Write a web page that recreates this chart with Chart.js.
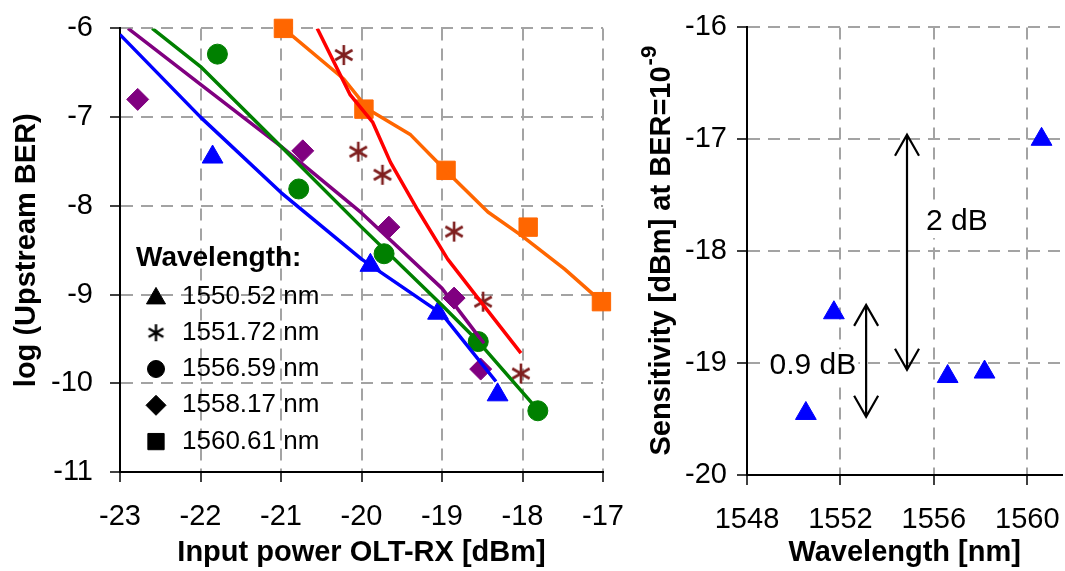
<!DOCTYPE html>
<html>
<head>
<meta charset="utf-8">
<title>Upstream BER and sensitivity</title>
<script src="https://cdn.jsdelivr.net/npm/chart.js@4.4.1/dist/chart.umd.min.js"></script>
<style>
  html, body { margin: 0; padding: 0; background: #fff; }
  #wrap { position: relative; width: 1065px; height: 571px; overflow: hidden; }
  /* canvases are a bit larger than their slot: the tick padding eats some room at the edges */
  #ber { position: absolute; left: 0; top: -6px; }
  #sens { position: absolute; left: 625px; top: 0; }
</style>
</head>
<body>
<div id="wrap">
  <canvas id="ber" width="642" height="577"></canvas>
  <canvas id="sens" width="454" height="571"></canvas>
</div>
<script>
var FONT = "'Liberation Sans', Arial, Helvetica, sans-serif";
Chart.defaults.font.family = FONT;
Chart.defaults.color = '#000';

// legend entries
var wavelengths = ['1550.52 nm', '1551.72 nm', '1556.59 nm', '1558.17 nm', '1560.61 nm'];

// measured BER points: input power [dBm] / log(BER)
var p1550x = [-21.85, -19.89, -19.05, -18.31];
var p1550y = [-7.45, -8.67, -9.21, -10.13];
var p1551x = [-20.22, -20.04, -19.74, -18.85, -18.49, -18.02];
var p1551y = [-6.30, -7.39, -7.65, -8.29, -9.08, -9.89];
var p1556x = [-21.79, -20.78, -19.72, -18.55, -17.81];
var p1556y = [-6.29, -7.81, -8.54, -9.53, -10.31];
var p1558x = [-22.78, -20.73, -19.66, -18.85, -18.52];
var p1558y = [-6.80, -7.38, -8.24, -9.04, -9.84];
var p1560x = [-20.97, -19.97, -18.95, -17.93, -17.02];
var p1560y = [-6.0, -6.91, -7.60, -8.24, -9.08];

// fitted curves
var fit1550x = [-23, -22, -21, -20, -19, -18.33];
var fit1550y = [-6.07, -7.0, -7.85, -8.6, -9.22, -9.98];
var fit1551x = [-20.55, -20.14, -19.86, -19.64, -19.3, -18.93, -18.52, -18.02];
var fit1551y = [-6.0, -6.75, -7.06, -7.51, -8.05, -8.6, -9.08, -9.66];
var fit1556x = [-22.6, -22, -21, -20, -19, -18.55, -17.81];
var fit1556y = [-6.0, -6.43, -7.33, -8.24, -9.12, -9.53, -10.3];
var fit1558x = [-22.9, -22, -21, -20, -19, -18.48];
var fit1558y = [-6.0, -6.63, -7.33, -8.08, -8.93, -9.55];
var fit1560x = [-20.97, -20.22, -19.92, -19.39, -18.98, -18.43, -18.02, -17.48, -17.02];
var fit1560y = [-6.0, -6.57, -6.91, -7.2, -7.58, -8.07, -8.33, -8.71, -9.08];

// sensitivity at BER=1e-9 per wavelength
var sensWl = [1550.52, 1551.72, 1556.59, 1558.17, 1560.61];
var sensDbm = [-19.45, -18.55, -19.12, -19.08, -17.0];

function toXY(xs, ys) {
    return xs.map(function (x, i) { return { x: x, y: ys[i] }; });
}

// six-armed asterisk marker
function asterisk(color, size, lw) {
    var c = document.createElement('canvas');
    c.width = size; c.height = size;
    var g = c.getContext('2d');
    var m = size / 2, r = size / 2 - 1;
    g.strokeStyle = color;
    g.lineWidth = lw;
    g.beginPath();
    [90, 30, 150].forEach(function (a) {
        var rad = a * Math.PI / 180;
        g.moveTo(m - Math.cos(rad) * r, m - Math.sin(rad) * r);
        g.lineTo(m + Math.cos(rad) * r, m + Math.sin(rad) * r);
    });
    g.stroke();
    return c;
}

var COLORS = ['#0000ff', '#7f1f1f', '#008000', '#800080', '#ff6600'];
var FITCOLORS = ['#0000ff', '#ff0000', '#008000', '#800080', '#ff6600'];

function pts(xs, ys, i, style, r) {
    return {
        data: toXY(xs, ys), showLine: false, order: 1, clip: false,
        pointStyle: style, pointRadius: r, pointHoverRadius: r,
        pointBackgroundColor: COLORS[i], pointBorderColor: COLORS[i], pointBorderWidth: 1
    };
}
function fit(xs, ys, i) {
    return {
        data: toXY(xs, ys), showLine: true, order: 0, pointRadius: 0,
        borderColor: FITCOLORS[i], borderWidth: 3.5, tension: 0, borderJoinStyle: 'round'
    };
}

var gridOpts = { color: '#a3a3a3', lineWidth: 2, tickColor: '#000', tickLength: 10, tickWidth: 1.5 };
var borderOpts = { color: '#000', width: 2, dash: [12, 8] };
function num(v) { return String(v); }

// legend inside the BER plot
var legendPlugin = {
    id: 'wlLegend',
    afterDraw: function (chart) {
        var ctx = chart.ctx;
        var top = chart.chartArea.top;
        var styles = ['triangle', null, 'circle', 'rectRot', 'rect'];
        var radii = [11, 0, 8.5, 10, 11.5];
        var star = asterisk('#000', 19, 2.4);
        ctx.save();
        ctx.fillStyle = '#000';
        ctx.strokeStyle = '#000';
        ctx.textBaseline = 'middle';
        ctx.font = 'bold 28px ' + FONT;
        ctx.fillText('Wavelength:', 136, top + 230);
        ctx.font = '26px ' + FONT;
        for (var i = 0; i < wavelengths.length; i++) {
            var y = top + 268 + i * 36.3;
            if (styles[i]) {
                Chart.helpers.drawPoint(ctx, { pointStyle: styles[i], radius: radii[i], rotation: 0, borderWidth: 1 }, 156, y + (i === 0 ? 2 : 0));
            } else {
                ctx.drawImage(star, 156 - 9.5, y - 9.5);
            }
            ctx.fillText(wavelengths[i], 182, y);
        }
        ctx.restore();
    }
};

var ber = new Chart(document.getElementById('ber'), {
    type: 'scatter',
    data: {
        datasets: [
            pts(p1550x, p1550y, 0, 'triangle', 12),
            pts(p1551x, p1551y, 1, asterisk(COLORS[1], 22, 2.6), 11),
            pts(p1556x, p1556y, 2, 'circle', 10),
            pts(p1558x, p1558y, 3, 'rectRot', 11),
            pts(p1560x, p1560y, 4, 'rect', 13),
            fit(fit1550x, fit1550y, 0),
            fit(fit1551x, fit1551y, 1),
            fit(fit1556x, fit1556y, 2),
            fit(fit1558x, fit1558y, 3),
            fit(fit1560x, fit1560y, 4)
        ]
    },
    options: {
        responsive: false,
        animation: false,
        layout: { padding: { top: 27, right: 23, left: 0, bottom: 0 } },
        plugins: { legend: { display: false }, tooltip: { enabled: false } },
        scales: {
            x: {
                type: 'linear', min: -23, max: -17,
                ticks: { stepSize: 1, padding: 18, font: { size: 29 }, callback: num },
                grid: gridOpts, border: borderOpts,
                title: { display: true, text: 'Input power OLT-RX [dBm]', font: { size: 29, weight: 'bold' }, padding: { top: 0, bottom: 1 } },
                afterFit: function (s) { s.height = 99; }
            },
            y: {
                type: 'linear', min: -11, max: -6,
                ticks: { stepSize: 1, padding: 17, font: { size: 29 }, callback: num },
                grid: gridOpts, border: borderOpts,
                title: { display: true, text: 'log (Upstream BER)', font: { size: 29, weight: 'bold' }, padding: { top: 10, bottom: 0 } },
                afterFit: function (s) { s.width = 120; }
            }
        }
    },
    plugins: [legendPlugin]
});

// arrows and dB labels, plus the y title with its exponent
var sensPlugin = {
    id: 'sensExtras',
    afterDatasetsDraw: function (chart) {
        var ctx = chart.ctx, xs = chart.scales.x, ys = chart.scales.y;
        var arrows = [
            { x: 1554.85, top: -16.96, bottom: -19.06, text: '2 dB', tx: 1555.66, ty: -17.74, align: 'left' },
            { x: 1553.1, top: -18.48, bottom: -19.48, text: '0.9 dB', tx: 1552.68, ty: -19.02, align: 'right' }
        ];
        ctx.save();
        ctx.font = '30px ' + FONT;
        ctx.textBaseline = 'middle';
        arrows.forEach(function (a) {
            var px = xs.getPixelForValue(a.x), y1 = ys.getPixelForValue(a.top), y2 = ys.getPixelForValue(a.bottom);
            ctx.strokeStyle = '#000';
            ctx.lineWidth = 2.2;
            ctx.beginPath();
            ctx.moveTo(px, y1); ctx.lineTo(px, y2);
            ctx.moveTo(px - 12, y1 + 21); ctx.lineTo(px, y1); ctx.lineTo(px + 12, y1 + 21);
            ctx.moveTo(px - 12, y2 - 21); ctx.lineTo(px, y2); ctx.lineTo(px + 12, y2 - 21);
            ctx.stroke();
            var tx = xs.getPixelForValue(a.tx), ty = ys.getPixelForValue(a.ty);
            var w = ctx.measureText(a.text).width;
            var left = a.align === 'left' ? tx : tx - w;
            ctx.fillStyle = '#fff';
            ctx.fillRect(left - 2, ty - 16, w + 4, 32);
            ctx.fillStyle = '#000';
            ctx.textAlign = a.align;
            ctx.fillText(a.text, tx, ty);
        });
        ctx.restore();
    },
    afterDraw: function (chart) {
        var ctx = chart.ctx;
        var main = 'Sensitivity [dBm] at BER=10', sup = '-9';
        ctx.save();
        ctx.fillStyle = '#000';
        ctx.textBaseline = 'middle';
        ctx.textAlign = 'left';
        ctx.font = 'bold 29px ' + FONT;
        var w1 = ctx.measureText(main).width;
        ctx.font = 'bold 22px ' + FONT;
        var w2 = ctx.measureText(sup).width;
        var cy = (chart.chartArea.top + chart.chartArea.bottom) / 2;
        ctx.translate(37, cy);
        ctx.rotate(-Math.PI / 2);
        var x0 = -(w1 + w2) / 2;
        ctx.font = 'bold 29px ' + FONT;
        ctx.fillText(main, x0, 0);
        ctx.font = 'bold 22px ' + FONT;
        ctx.fillText(sup, x0 + w1 + 1, -12);
        ctx.restore();
    }
};

var sens = new Chart(document.getElementById('sens'), {
    type: 'scatter',
    data: {
        datasets: [{
            data: toXY(sensWl, sensDbm), clip: false,
            pointStyle: 'triangle', pointRadius: 12, pointHoverRadius: 12,
            pointBackgroundColor: '#0000ff', pointBorderColor: '#0000ff', pointBorderWidth: 1
        }]
    },
    options: {
        responsive: false,
        animation: false,
        layout: { padding: { top: 27, right: 0, left: 0, bottom: 0 } },
        plugins: { legend: { display: false }, tooltip: { enabled: false } },
        scales: {
            x: {
                type: 'linear', min: 1548, max: 1561.5,
                ticks: { stepSize: 4, includeBounds: false, padding: 18, font: { size: 29 }, callback: num },
                grid: gridOpts, border: borderOpts,
                title: { display: true, text: 'Wavelength [nm]', font: { size: 29, weight: 'bold' }, padding: { top: 0, bottom: 1 } },
                afterFit: function (s) { s.height = 96; }
            },
            y: {
                type: 'linear', min: -20, max: -16,
                ticks: { stepSize: 1, padding: 10, font: { size: 29 }, callback: num },
                grid: gridOpts, border: borderOpts,
                title: { display: false },
                afterFit: function (s) { s.width = 122; }
            }
        }
    },
    plugins: [sensPlugin]
});
</script>
</body>
</html>
